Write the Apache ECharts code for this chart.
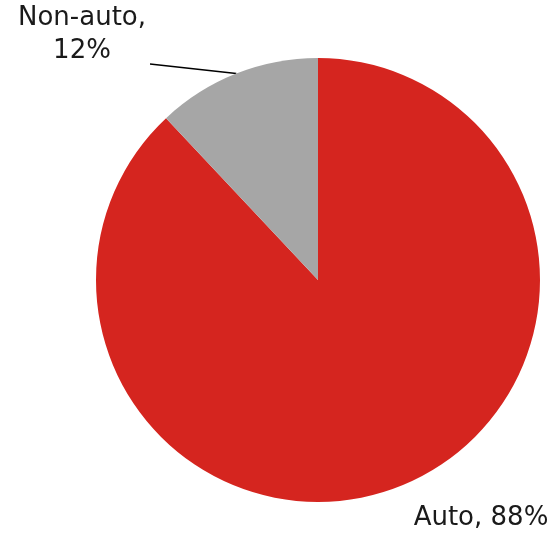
<!DOCTYPE html>
<html>
<head>
<meta charset="utf-8">
<style>
  html, body { margin: 0; padding: 0; background: #ffffff; }
  #chart { width: 553px; height: 535px; }
</style>
<script src="https://cdn.jsdelivr.net/npm/echarts@6/dist/echarts.min.js"></script>
</head>
<body>
<div id="chart"></div>
<script>
// Share of sales by segment
const categories = ['Auto', 'Non-auto'];
const shares = [88, 12];
const sliceColors = ['#D5251F', '#A6A6A6'];

const chart = echarts.init(document.getElementById('chart'), null, { renderer: 'canvas' });

const pieData = categories.map((name, i) => ({
  name: name,
  value: shares[i],
  itemStyle: { color: sliceColors[i] },
  labelLine: { show: i === 1 }
}));

// Where each label block sits (centre point of the text block)
const labelSpots = {
  'Auto': { x: 481, y: 518 },
  'Non-auto': { x: 82, y: 35 }
};

chart.setOption({
  animation: false,
  series: [{
    type: 'pie',
    center: [318, 280],
    radius: 222,
    startAngle: 90,
    clockwise: true,
    avoidLabelOverlap: false,
    itemStyle: { borderWidth: 0 },
    label: {
      show: true,
      position: 'outside',
      formatter: function (p) {
        return p.name === 'Non-auto' ? p.name + ',\n' + p.value + '%' : p.name + ', ' + p.value + '%';
      },
      fontFamily: 'DejaVu Sans',
      fontSize: 26,
      lineHeight: 33,
      color: '#1a1a1a',
      align: 'center'
    },
    labelLine: {
      show: true,
      length: 10,
      length2: 10,
      smooth: false,
      lineStyle: { color: '#000000', width: 1.5 }
    },
    labelLayout: function (params) {
      const name = categories[params.dataIndex];
      const spot = labelSpots[name];
      const out = { x: spot.x, y: spot.y, align: 'center', verticalAlign: 'middle' };
      if (name === 'Non-auto' && params.labelLinePoints) {
        const anchor = params.labelLinePoints[0];
        const end = [150, 64];
        out.labelLinePoints = [anchor, end, end];
      }
      return out;
    },
    data: pieData
  }]
});
</script>
</body>
</html>
